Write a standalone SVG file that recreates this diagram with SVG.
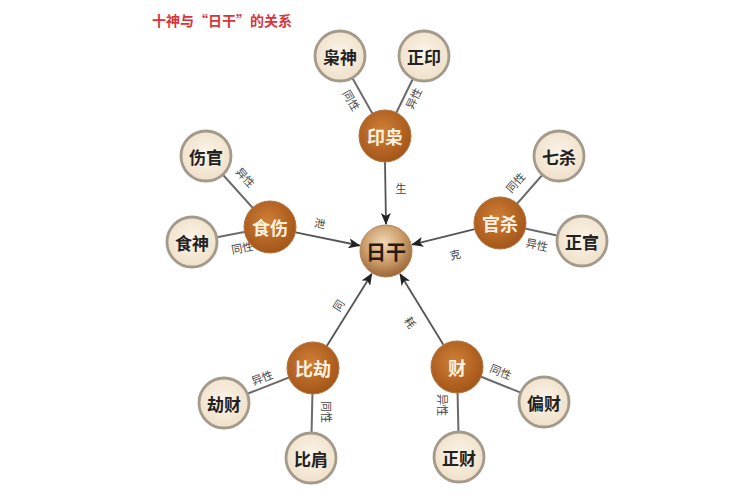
<svg xmlns="http://www.w3.org/2000/svg" width="750" height="500" viewBox="0 0 750 500">
<defs>
<radialGradient id="gOuter" cx="50%" cy="45%" r="55%">
<stop offset="0" stop-color="#fbf4ea"/>
<stop offset="1" stop-color="#efe0c8"/>
</radialGradient>
<radialGradient id="gInner" cx="45%" cy="40%" r="60%">
<stop offset="0" stop-color="#cf7f35"/>
<stop offset="1" stop-color="#a4561a"/>
</radialGradient>
<radialGradient id="gCenter" cx="45%" cy="35%" r="65%">
<stop offset="0" stop-color="#f2d9b8"/>
<stop offset="0.6" stop-color="#c99a68"/>
<stop offset="1" stop-color="#9a6638"/>
</radialGradient>
<marker id="arr" markerUnits="userSpaceOnUse" markerWidth="12" markerHeight="10" refX="11" refY="5" orient="auto">
<path d="M0,0 L12,5 L0,10 L3,5 Z" fill="#222"/>
</marker>
</defs>
<style>
.outer{fill:url(#gOuter);stroke:#a49a8c;stroke-width:2.8}
.inner{fill:url(#gInner);stroke:#b0733c;stroke-width:1}
.center{fill:url(#gCenter);stroke:#b08458;stroke-width:1}
.ot{font-family:"Noto Sans CJK SC","Noto Sans CJK TC",sans-serif;font-size:17px;font-weight:bold;fill:#222;text-anchor:middle;dominant-baseline:central}
.it{font-family:"Noto Sans CJK SC",sans-serif;font-size:18px;font-weight:bold;fill:#fdf1e2;text-anchor:middle;dominant-baseline:central}
.ct{font-family:"Noto Sans CJK SC",sans-serif;font-size:20px;font-weight:bold;fill:#2a1a10;text-anchor:middle;dominant-baseline:central}
.spoke{stroke:#6a6a6a;stroke-width:2;fill:none}
.arrow{stroke:#555;stroke-width:1.8;fill:none;marker-end:url(#arr)}
.lb{font-family:"Noto Sans CJK SC",sans-serif;font-size:11px;fill:#444;text-anchor:middle;dominant-baseline:central}
.title{font-family:"Noto Sans CJK SC",sans-serif;font-size:14px;font-weight:bold;fill:#d9343a}
</style>
<rect width="750" height="500" fill="#ffffff"/>
<text class="title" x="152" y="26">十神与“日干”的关系</text>
<g id="connectors">
<line class="spoke" x1="385" y1="136" x2="340" y2="56"/>
<line class="spoke" x1="385" y1="136" x2="424" y2="56"/>
<line class="spoke" x1="270" y1="227" x2="206" y2="156"/>
<line class="spoke" x1="270" y1="227" x2="192" y2="242"/>
<line class="spoke" x1="500" y1="223" x2="559" y2="156"/>
<line class="spoke" x1="500" y1="223" x2="582" y2="241"/>
<line class="spoke" x1="313" y1="368" x2="224" y2="403"/>
<line class="spoke" x1="313" y1="368" x2="311" y2="458"/>
<line class="spoke" x1="457" y1="367" x2="544" y2="402"/>
<line class="spoke" x1="457" y1="367" x2="459" y2="457"/>
<line class="arrow" x1="385" y1="162" x2="386" y2="224"/>
<line class="arrow" x1="295.5" y1="232.3" x2="359.6" y2="245.5"/>
<line class="arrow" x1="474.8" y1="229.2" x2="412.2" y2="244.6"/>
<line class="arrow" x1="326.8" y1="346" x2="371.7" y2="273.9"/>
<line class="arrow" x1="443.4" y1="344.8" x2="400.1" y2="274"/>
<text class="lb" transform="translate(352,100) rotate(60)">同性</text>
<text class="lb" transform="translate(413,98) rotate(-64)">异性</text>
<text class="lb" x="401" y="188">生</text>
<text class="lb" transform="translate(246,177) rotate(48)">异性</text>
<text class="lb" transform="translate(242,247) rotate(-11)">同性</text>
<text class="lb" transform="translate(320,223) rotate(11)">泄</text>
<text class="lb" transform="translate(515,182) rotate(-48)">同性</text>
<text class="lb" transform="translate(537,244) rotate(12)">异性</text>
<text class="lb" transform="translate(455,254) rotate(-13)">克</text>
<text class="lb" transform="translate(338,305) rotate(-58)">同</text>
<text class="lb" transform="translate(411,322) rotate(58)">耗</text>
<text class="lb" transform="translate(262,377) rotate(-21)">异性</text>
<text class="lb" transform="translate(327,412) rotate(90)">同性</text>
<text class="lb" transform="translate(501,371) rotate(22)">同性</text>
<text class="lb" transform="translate(443,405) rotate(90)">异性</text>
</g>
<g id="rigan"><circle class="center" cx="386" cy="251" r="26"/><text class="ct" x="386" y="251">日干</text></g>
<g id="yinxiao"><circle class="inner" cx="385" cy="136" r="26"/><text class="it" x="385" y="136">印枭</text></g>
<g id="xiaoshen"><circle class="outer" cx="340" cy="56" r="25"/><text class="ot" x="340" y="56">枭神</text></g>
<g id="zhengyin"><circle class="outer" cx="424" cy="56" r="25"/><text class="ot" x="424" y="56">正印</text></g>
<g id="shishang"><circle class="inner" cx="270" cy="227" r="26"/><text class="it" x="270" y="227">食伤</text></g>
<g id="shangguan"><circle class="outer" cx="206" cy="156" r="25"/><text class="ot" x="206" y="156">伤官</text></g>
<g id="shishen"><circle class="outer" cx="192" cy="242" r="25"/><text class="ot" x="192" y="242">食神</text></g>
<g id="guansha"><circle class="inner" cx="500" cy="223" r="26"/><text class="it" x="500" y="223">官杀</text></g>
<g id="qisha"><circle class="outer" cx="559" cy="156" r="25"/><text class="ot" x="559" y="156">七杀</text></g>
<g id="zhengguan"><circle class="outer" cx="582" cy="241" r="25"/><text class="ot" x="582" y="241">正官</text></g>
<g id="bijie"><circle class="inner" cx="313" cy="368" r="26"/><text class="it" x="313" y="368">比劫</text></g>
<g id="jiecai"><circle class="outer" cx="224" cy="403" r="25"/><text class="ot" x="224" y="403">劫财</text></g>
<g id="bijian"><circle class="outer" cx="311" cy="458" r="25"/><text class="ot" x="311" y="458">比肩</text></g>
<g id="cai"><circle class="inner" cx="457" cy="367" r="26"/><text class="it" x="457" y="367">财</text></g>
<g id="piancai"><circle class="outer" cx="544" cy="402" r="25"/><text class="ot" x="544" y="402">偏财</text></g>
<g id="zhengcai"><circle class="outer" cx="459" cy="457" r="25"/><text class="ot" x="459" y="457">正财</text></g>
</svg>
